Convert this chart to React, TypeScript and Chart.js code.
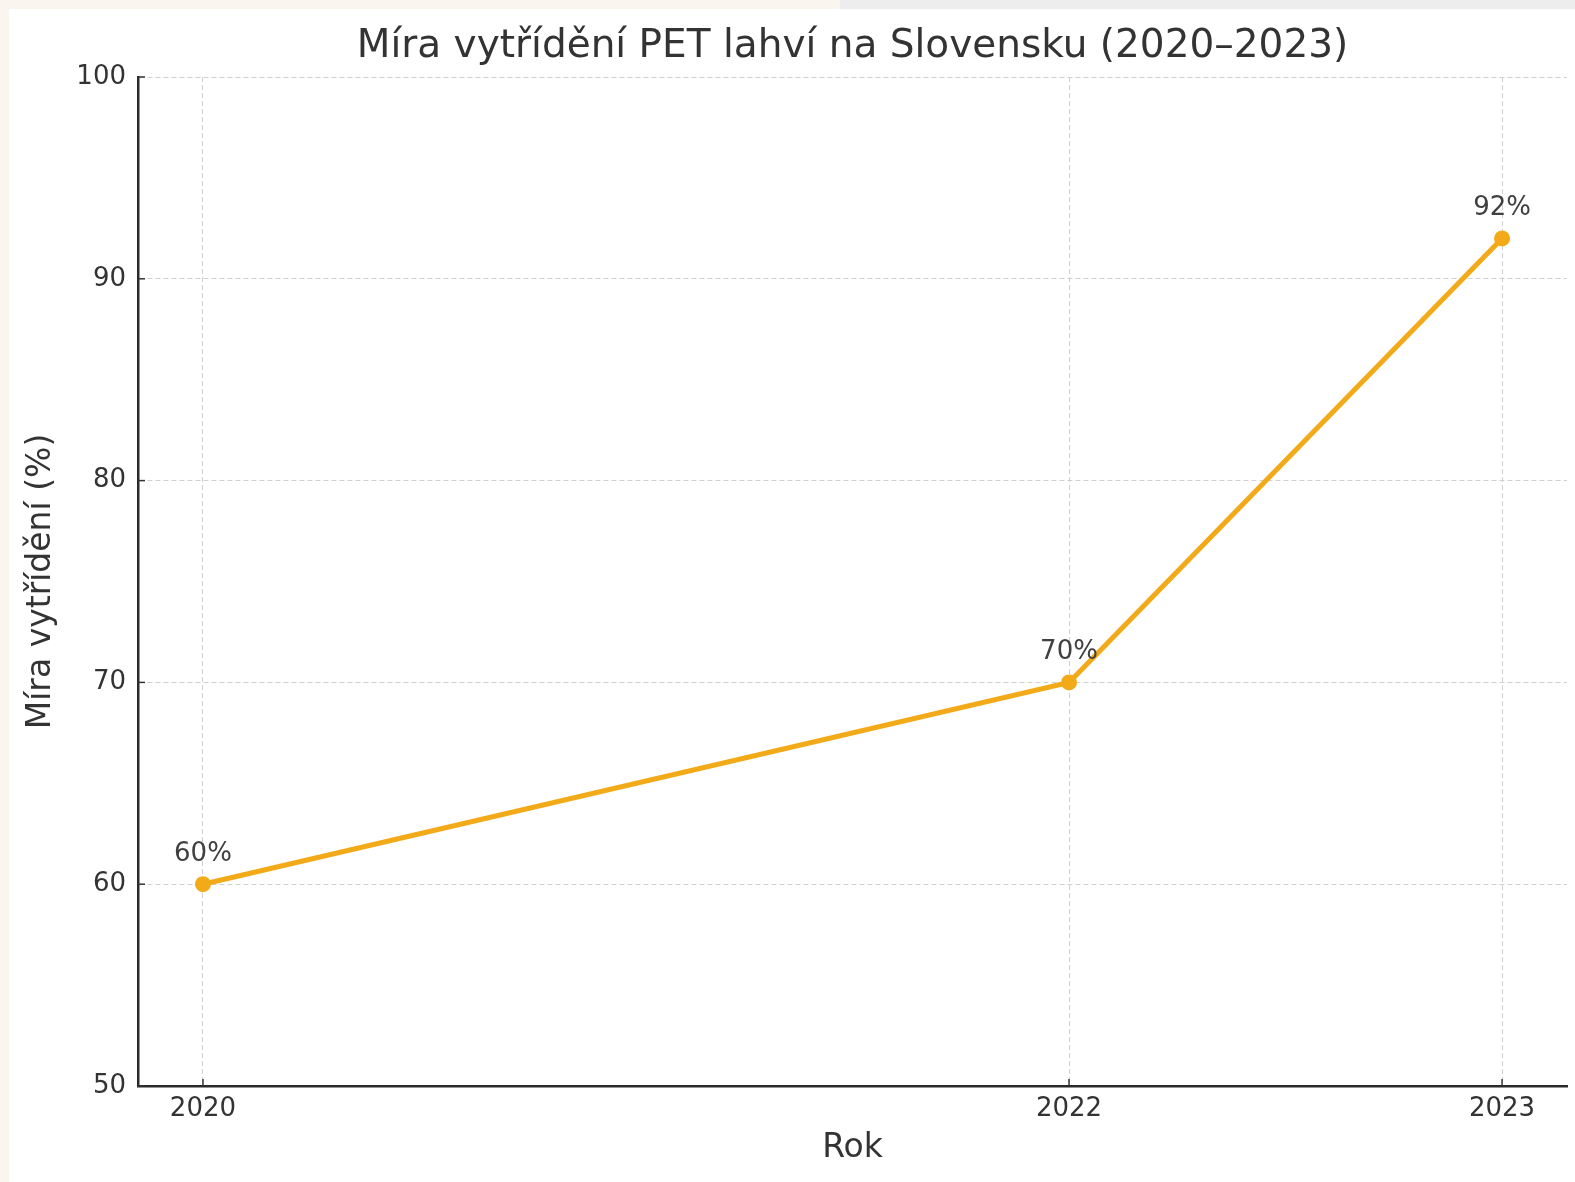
import React, { useEffect, useRef } from "react";
import { Chart, registerables } from "chart.js";

Chart.register(...registerables);

const years = [2020, 2022, 2023];
const rates = [60, 70, 92];
const yTicks = [50, 60, 70, 80, 90, 100];
const titleText = "Míra vytřídění PET lahví na Slovensku (2020–2023)";
const xTitle = "Rok";
const yTitle = "Míra vytřídění (%)";

const FONT = "'DejaVu Sans', sans-serif";
const LINE = "#F3AA19";
const TEXT = "#333333";

const bgPlugin = {
  id: "bg",
  beforeDraw(chart: any) {
    const { ctx, width, height } = chart;
    ctx.save();
    ctx.fillStyle = "#FAF6EF";
    ctx.fillRect(0, 0, width, height);
    ctx.fillStyle = "#EDEDED";
    ctx.fillRect(840, 0, width - 840, 9);
    ctx.fillStyle = "#ffffff";
    ctx.fillRect(9, 9, width - 9, height - 9);
    ctx.restore();
  },
};

const titlePlugin = {
  id: "customTitle",
  afterDraw(chart: any) {
    const { ctx, chartArea } = chart;
    ctx.save();
    ctx.font = `39px ${FONT}`;
    ctx.fillStyle = TEXT;
    ctx.textAlign = "center";
    ctx.textBaseline = "middle";
    ctx.fillText(titleText, (chartArea.left + chartArea.right) / 2, 47);
    ctx.restore();
  },
};

const tickMarks = {
  id: "tickMarks",
  afterDraw(chart: any) {
    const { ctx, chartArea, scales } = chart;
    ctx.save();
    ctx.strokeStyle = TEXT;
    ctx.lineWidth = 1.5;
    scales.x.ticks.forEach((t: any) => {
      const px = scales.x.getPixelForValue(t.value);
      ctx.beginPath();
      ctx.moveTo(px, chartArea.bottom);
      ctx.lineTo(px, chartArea.bottom - 7);
      ctx.stroke();
    });
    scales.y.ticks.forEach((t: any) => {
      const py = scales.y.getPixelForValue(t.value);
      ctx.beginPath();
      ctx.moveTo(chartArea.left, py);
      ctx.lineTo(chartArea.left + 7, py);
      ctx.stroke();
    });
    ctx.restore();
  },
};

const valueLabels = {
  id: "valueLabels",
  afterDatasetsDraw(chart: any) {
    const { ctx } = chart;
    const meta = chart.getDatasetMeta(0);
    ctx.save();
    ctx.font = `26px ${FONT}`;
    ctx.fillStyle = "#404040";
    ctx.textAlign = "center";
    ctx.textBaseline = "middle";
    meta.data.forEach((pt: any, i: number) => {
      ctx.fillText(`${rates[i]}%`, pt.x, pt.y - 30);
    });
    ctx.restore();
  },
};

export default function App() {
  const ref = useRef<HTMLCanvasElement | null>(null);
  useEffect(() => {
    if (!ref.current) return;
    const chart = new Chart(ref.current, {
      type: "line",
      data: {
        datasets: [
          {
            data: years.map((y, i) => ({ x: y, y: rates[i] })),
            borderColor: LINE,
            backgroundColor: LINE,
            borderWidth: 5,
            pointRadius: 8,
            pointBackgroundColor: LINE,
            pointBorderColor: LINE,
            pointBorderWidth: 0,
            tension: 0,
          },
        ],
      },
      options: {
        animation: false,
        responsive: true,
        maintainAspectRatio: false,
        layout: { padding: { left: 0, right: 8, top: 77, bottom: 0 } },
        plugins: {
          legend: { display: false },
          tooltip: { enabled: false },
          title: { display: false },
        },
        scales: {
          x: {
            type: "linear",
            min: 2019.85,
            max: 2023.15,
            afterBuildTicks(scale: any) {
              scale.ticks = years.map((v) => ({ value: v }));
            },
            afterFit(scale: any) {
              scale.height = 96;
            },
            ticks: {
              color: TEXT,
              font: { family: FONT, size: 26 },
              padding: 8,
              callback: (v: any) => String(v),
              maxRotation: 0,
            },
            grid: {
              color: "#D0D0D0",
              lineWidth: 1,
              drawTicks: false,
            },
            border: { display: true, color: "#2a2a2a", width: 2.5, dash: [5, 3] },
            title: {
              display: true,
              text: xTitle,
              color: TEXT,
              font: { family: FONT, size: 33 },
              padding: { top: 0, bottom: 14 },
            },
          },
          y: {
            type: "linear",
            min: 50,
            max: 100,
            afterBuildTicks(scale: any) {
              scale.ticks = yTicks.map((v) => ({ value: v }));
            },
            afterFit(scale: any) {
              scale.width = 138;
            },
            ticks: {
              color: TEXT,
              font: { family: FONT, size: 26 },
              padding: 12,
            },
            grid: {
              color: "#D0D0D0",
              lineWidth: 1,
              drawTicks: false,
            },
            border: { display: true, color: "#2a2a2a", width: 2.5, dash: [5, 3] },
            title: {
              display: true,
              text: yTitle,
              color: TEXT,
              font: { family: FONT, size: 33 },
              padding: { top: 22, bottom: 0 },
            },
          },
        },
      } as any,
      plugins: [bgPlugin, titlePlugin, tickMarks, valueLabels],
    });
    return () => chart.destroy();
  }, []);
  return (
    <div style={{ position: "fixed", left: 0, top: 0, width: 1575, height: 1182 }}>
      <canvas ref={ref} />
    </div>
  );
}
